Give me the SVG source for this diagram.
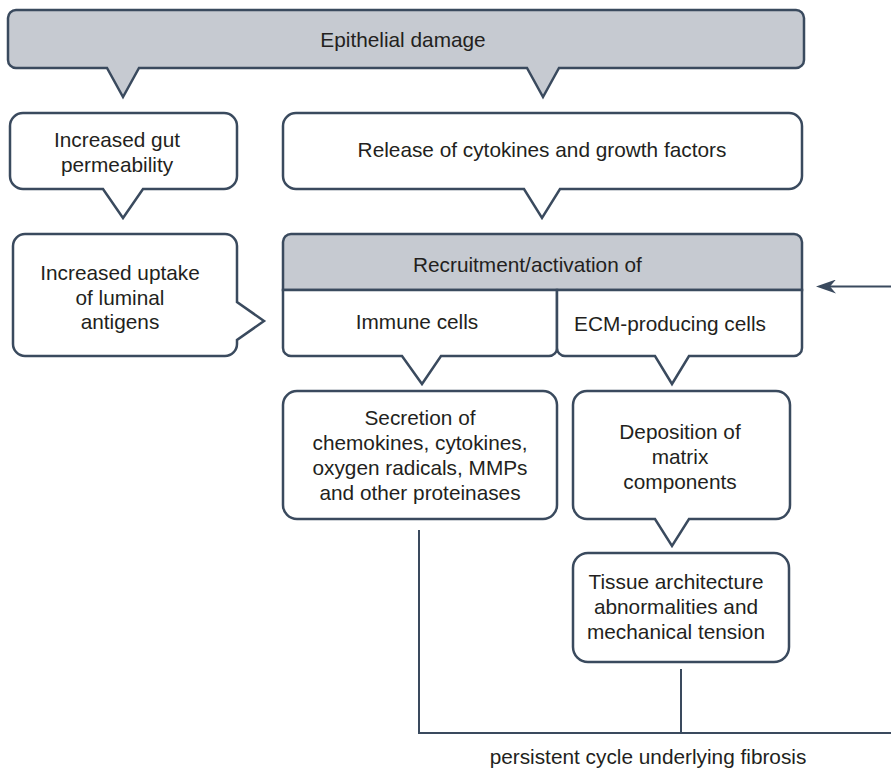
<svg xmlns="http://www.w3.org/2000/svg" width="891" height="768" viewBox="0 0 891 768">
<style>
  .box{fill:#ffffff;stroke:#3a4a5e;stroke-width:2.5;stroke-linejoin:miter}
  .gray{fill:#c6cad1;stroke:#3a4a5e;stroke-width:2.5}
  .t{font-family:"Liberation Sans",Arial,sans-serif;font-size:20.8px;fill:#231f20;text-anchor:middle}
  .tl{font-family:"Liberation Sans",Arial,sans-serif;font-size:20.8px;fill:#231f20}
  .conn{fill:none;stroke:#3a4a5e;stroke-width:2}
</style>
<defs>
  <marker id="ah" viewBox="0 0 20 14" refX="6" refY="7" markerWidth="20" markerHeight="14" markerUnits="userSpaceOnUse" orient="auto">
    <path d="M0,0 L20,7 L0,14 L6,7 Z" fill="#3a4a5e"/>
  </marker>
</defs>
<rect width="891" height="768" fill="#ffffff"/>

<g id="epithelial-damage">
  <path class="gray" d="M16,10 H796 A8,8 0 0 1 804,18 V60 A8,8 0 0 1 796,68 H559 L543,97 L527,68 H139 L123,97 L107,68 H16 A8,8 0 0 1 8,60 V18 A8,8 0 0 1 16,10 Z"/>
  <text class="t" x="403" y="47">Epithelial damage</text>
</g>

<g id="gut-permeability">
  <path class="box" d="M23,113 H224 A13,13 0 0 1 237,126 V176 A13,13 0 0 1 224,189 H143 L123,218 L103,189 H23 A13,13 0 0 1 10,176 V126 A13,13 0 0 1 23,113 Z"/>
  <text class="t" x="117" y="147">Increased gut</text>
  <text class="t" x="117" y="172">permeability</text>
</g>

<g id="release-cytokines">
  <path class="box" d="M296,113 H789 A13,13 0 0 1 802,126 V176 A13,13 0 0 1 789,189 H560 L542,218 L524,189 H296 A13,13 0 0 1 283,176 V126 A13,13 0 0 1 296,113 Z"/>
  <text class="t" x="542" y="157">Release of cytokines and growth factors</text>
</g>

<g id="uptake-antigens">
  <path class="box" d="M25,234 H225 A12,12 0 0 1 237,246 V302 L264,321 L237,340 V344 A12,12 0 0 1 225,356 H25 A12,12 0 0 1 13,344 V246 A12,12 0 0 1 25,234 Z"/>
  <text class="t" x="120" y="280">Increased uptake</text>
  <text class="t" x="120" y="305">of luminal</text>
  <text class="t" x="120" y="329">antigens</text>
</g>

<g id="recruitment">
  <path class="gray" d="M291,234 H794 A8,8 0 0 1 802,242 V290 H283 V242 A8,8 0 0 1 291,234 Z"/>
  <text class="tl" x="413" y="272">Recruitment/activation of</text>
</g>

<g id="immune-cells">
  <path class="box" d="M283,290 V348 A8,8 0 0 0 291,356 H402 L422,384 L441,356 H549 A8,8 0 0 0 557,348 V290 Z"/>
  <text class="t" x="417" y="329">Immune cells</text>
</g>

<g id="ecm-cells">
  <path class="box" d="M557,290 V348 A8,8 0 0 0 565,356 H655 L672,384 L689,356 H794 A8,8 0 0 0 802,348 V290 Z"/>
  <text class="t" x="670" y="331">ECM-producing cells</text>
</g>

<g id="secretion">
  <rect class="box" x="283" y="391" width="274" height="128" rx="14"/>
  <text class="t" x="420" y="425">Secretion of</text>
  <text class="t" x="420" y="450">chemokines, cytokines,</text>
  <text class="t" x="420" y="475">oxygen radicals, MMPs</text>
  <text class="t" x="420" y="500">and other proteinases</text>
</g>

<g id="deposition">
  <path class="box" d="M587,391 H776 A14,14 0 0 1 790,405 V505 A14,14 0 0 1 776,519 H689 L672,546 L655,519 H587 A14,14 0 0 1 573,505 V405 A14,14 0 0 1 587,391 Z"/>
  <text class="t" x="680" y="439">Deposition of</text>
  <text class="t" x="680" y="464">matrix</text>
  <text class="t" x="680" y="489">components</text>
</g>

<g id="tissue-architecture">
  <rect class="box" x="573" y="553" width="216" height="109" rx="15"/>
  <text class="t" x="676" y="589">Tissue architecture</text>
  <text class="t" x="676" y="614">abnormalities and</text>
  <text class="t" x="676" y="639">mechanical tension</text>
</g>

<g id="connectors">
  <path class="conn" d="M419,530 V733 H891"/>
  <path class="conn" d="M681,669 V733"/>
  <path class="conn" d="M891,286.5 H830" marker-end="url(#ah)"/>
</g>

<g id="cycle-label">
  <text class="t" x="648" y="764">persistent cycle underlying fibrosis</text>
</g>
</svg>
